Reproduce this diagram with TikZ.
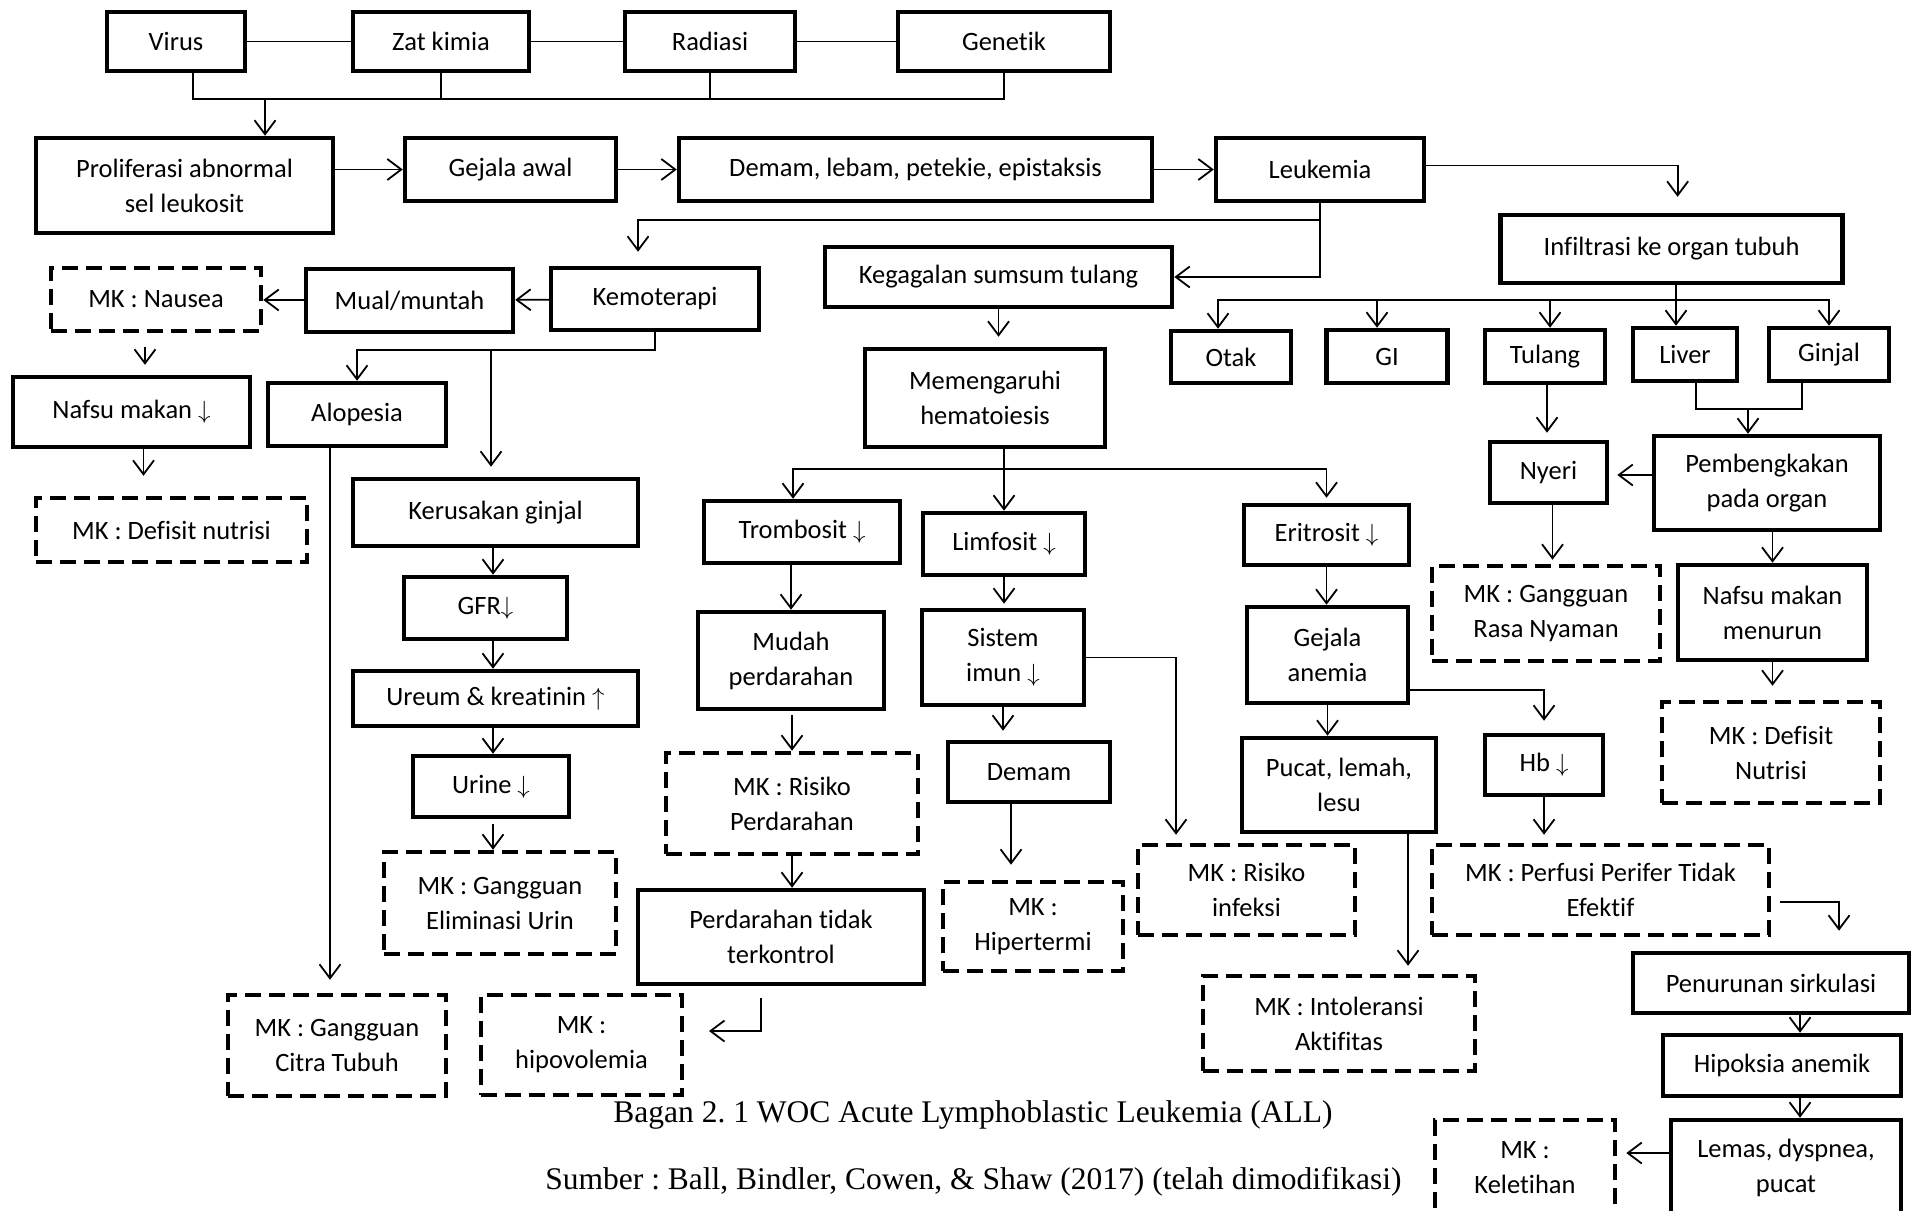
\documentclass[tikz,border=0pt]{standalone}
\usepackage{fontspec}
\setmainfont{Carlito}[Ligatures=NoCommon]
\newfontfamily\capfont{Liberation Serif}
\usetikzlibrary{arrows.meta}
\newcommand{\turun}{$\downarrow$}
\newcommand{\naik}{$\uparrow$}
\frenchspacing

\begin{document}
\begin{tikzpicture}[x=1pt,y=-1pt,
      box/.style={draw,line width=4.5pt,align=center,inner sep=2pt,
        font=\fontsize{26.5}{35}\selectfont},
      mkbox/.style={box,dash pattern=on 16pt off 8pt},
      caption/.style={font=\capfont\fontsize{31.5}{36}\selectfont},
      every path/.style={line width=1.8pt},
      >={Straight Barb[length=14pt,width=21pt]},
      ]
      \useasboundingbox (0,0) rectangle (1916,1210);
      % causes
      \node[box,minimum width=138pt,minimum height=59pt] (virus) at (176,41.5) {Virus};
      \node[box,minimum width=176pt,minimum height=59pt] (zat) at (441,41.5) {Zat kimia};
      \node[box,minimum width=170pt,minimum height=59pt] (radiasi) at (710,41.5) {Radiasi};
      \node[box,minimum width=212pt,minimum height=59pt] (genetik) at (1004,41.5) {Genetik};
      % main line
      \node[box,minimum width=297pt,minimum height=95pt] (prolif) at (184.5,185.5) {Proliferasi abnormal\\sel leukosit};
      \node[box,minimum width=211pt,minimum height=63pt] (gejala) at (510.5,169.5) {Gejala awal};
      \node[box,minimum width=473pt,minimum height=63pt] (demam1) at (915.5,169.5) {Demam, lebam, petekie, epistaksis};
      \node[box,minimum width=208pt,minimum height=63pt] (leuk) at (1320,169.5) {Leukemia};
      \node[box,minimum width=342pt,minimum height=68pt] (infil) at (1671.6,249) {Infiltrasi ke organ tubuh};
      \node[box,minimum width=347pt,minimum height=60pt] (kegagal) at (998.5,277) {Kegagalan sumsum tulang};
      % kemoterapi
      \node[box,minimum width=208pt,minimum height=62pt] (kemo) at (655,299) {Kemoterapi};
      \node[box,minimum width=207pt,minimum height=63pt] (mual) at (409.5,300.5) {Mual/muntah};
      \node[mkbox,minimum width=210pt,minimum height=63pt] (nausea) at (156,299.5) {MK : Nausea};
      \node[box,minimum width=237pt,minimum height=70pt] (nafsu1) at (131.5,412) {Nafsu makan \turun};
      \node[mkbox,minimum width=271pt,minimum height=64pt] (defnut1) at (171.5,530) {MK : Defisit nutrisi};
      \node[box,minimum width=178pt,minimum height=63pt] (alop) at (357,414.5) {Alopesia};
      \node[mkbox,minimum width=218pt,minimum height=101pt] (citra) at (337,1045.5) {MK : Gangguan\\Citra Tubuh};
      \node[box,minimum width=285pt,minimum height=67pt] (kerus) at (495.5,512.5) {Kerusakan ginjal};
      \node[box,minimum width=163pt,minimum height=62pt] (gfr) at (485.5,608) {GFR\turun};
      \node[box,minimum width=285pt,minimum height=55pt] (ureum) at (495.5,698.5) {Ureum \& kreatinin \naik};
      \node[box,minimum width=156pt,minimum height=61pt] (urine) at (491,786.5) {Urine \turun};
      \node[mkbox,minimum width=232pt,minimum height=102pt] (elim) at (500,903) {MK : Gangguan\\Eliminasi Urin};
      \node[mkbox,minimum width=201pt,minimum height=100pt] (hipo) at (581.5,1045) {MK :\\hipovolemia};
      % hematopoiesis
      \node[box,minimum width=240pt,minimum height=98pt] (memhem) at (985,398) {Memengaruhi\\hematoiesis};
      \node[box,minimum width=196pt,minimum height=62pt] (tromb) at (802,532) {Trombosit \turun};
      \node[box,minimum width=186pt,minimum height=97pt] (mudah) at (791,660.5) {Mudah\\perdarahan};
      \node[mkbox,minimum width=252pt,minimum height=101pt] (risper) at (792,803.5) {MK : Risiko\\Perdarahan};
      \node[box,minimum width=286pt,minimum height=94pt] (tidak) at (781,937) {Perdarahan tidak\\terkontrol};
      \node[box,minimum width=162pt,minimum height=62pt] (limf) at (1004,544) {Limfosit \turun};
      \node[box,minimum width=162pt,minimum height=95pt] (sistem) at (1003,657.5) {Sistem\\imun \turun};
      \node[box,minimum width=162pt,minimum height=60pt] (demam2) at (1029,772) {Demam};
      \node[mkbox,minimum width=180pt,minimum height=89pt] (hiper) at (1033,926.5) {MK :\\Hipertermi};
      \node[mkbox,minimum width=217pt,minimum height=90pt] (infeksi) at (1246.5,890) {MK : Risiko\\infeksi};
      \node[box,minimum width=165pt,minimum height=60pt] (eritro) at (1326.5,535) {Eritrosit \turun};
      \node[box,minimum width=161pt,minimum height=96pt] (anemia) at (1327.5,655) {Gejala\\anemia};
      \node[box,minimum width=194pt,minimum height=94pt] (pucat) at (1339,785) {Pucat, lemah,\\lesu};
      \node[mkbox,minimum width=272pt,minimum height=95pt] (intol) at (1339,1023.5) {MK : Intoleransi\\Aktifitas};
      \node[box,minimum width=118pt,minimum height=60pt] (hb) at (1544,765) {Hb \turun};
      \node[mkbox,minimum width=337pt,minimum height=90pt] (perfusi) at (1600.5,890) {MK : Perfusi Perifer Tidak\\Efektif};
      \node[box,minimum width=276pt,minimum height=60pt] (penur) at (1771,983) {Penurunan sirkulasi};
      \node[box,minimum width=238pt,minimum height=61pt] (hipoks) at (1782,1065.5) {Hipoksia anemik};
      \node[box,minimum width=230pt,minimum height=96pt] (lemas) at (1786,1168) {Lemas, dyspnea,\\pucat};
      \node[mkbox,minimum width=180pt,minimum height=96pt] (kelet) at (1525,1168) {MK :\\Keletihan};
      % organs
      \node[box,minimum width=120pt,minimum height=52pt] (otak) at (1231,357) {Otak};
      \node[box,minimum width=121pt,minimum height=53pt] (gi) at (1387,356.5) {GI};
      \node[box,minimum width=120pt,minimum height=53pt] (tulang) at (1545,356.5) {Tulang};
      \node[box,minimum width=104pt,minimum height=53pt] (liver) at (1685,354.5) {Liver};
      \node[box,minimum width=120pt,minimum height=53pt] (ginjal) at (1829,354.5) {Ginjal};
      \node[box,minimum width=117pt,minimum height=61pt] (nyeri) at (1548.5,472.5) {Nyeri};
      \node[box,minimum width=226pt,minimum height=94pt] (pemb) at (1767,483) {Pembengkakan\\pada organ};
      \node[mkbox,minimum width=228pt,minimum height=95pt] (rasa) at (1546,613.5) {MK : Gangguan\\Rasa Nyaman};
      \node[box,minimum width=189pt,minimum height=95pt] (nafsu2) at (1772.5,612.5) {Nafsu makan\\menurun};
      \node[mkbox,minimum width=218pt,minimum height=101pt] (defnut2) at (1771,752.5) {MK : Defisit\\Nutrisi};
      % captions
      \node[caption] (cap1) at (973,1115) {Bagan 2. 1 WOC Acute Lymphoblastic Leukemia (ALL)};
      \node[caption] (cap2) at (973.5,1182) {Sumber : Ball, Bindler, Cowen, \& Shaw (2017) (telah dimodifikasi)};

      \coordinate (cbus) at (265,99);
      \coordinate (kbus) at (491,350);
      \coordinate (kx) at (493,0);
      \coordinate (htip) at (709,1031);
      \coordinate (mbus) at (1004,469);
      \coordinate (ix) at (1176,0);
      \coordinate (rx) at (1800,0);
      \coordinate (ibus) at (1676,300);
      \coordinate (lg) at (1748,409);

      \draw (virus) -- (zat);
      \draw (zat) -- (radiasi);
      \draw (radiasi) -- (genetik);
      \draw ([xshift=17pt]virus.south) |- (genetik.south |- cbus) -- (genetik.south);
      \draw (zat.south) -- (zat.south |- cbus);
      \draw (radiasi.south) -- (radiasi.south |- cbus);
      \draw[->] (cbus) -- (cbus |- prolif.north);
      \draw[->] (prolif.east |- gejala.west) -- (gejala.west);
      \draw[->] (gejala) -- (demam1);
      \draw[->] (demam1) -- (leuk);
      \draw[->,shorten >=16pt] ([yshift=4pt]leuk.east) -| ([xshift=6pt]infil.north);
      \draw[->] (leuk.south) |- (kegagal.east);
      \draw[->,shorten >=14pt] ([yshift=-17pt]leuk.south) -| ([xshift=-17pt]kemo.north);
      \draw[->] (kemo) -- (mual);
      \draw[->] (mual) -- (nausea);
      \draw[->,shorten <=14pt,shorten >=10pt] ([xshift=-11pt]nausea.south) -- ([xshift=-11pt]nausea.south |- nafsu1.north);
      \draw[->,shorten >=20pt] ([xshift=12pt]nafsu1.south) -- ([xshift=12pt]nafsu1.south |- defnut1.north);
      \draw[->] (kemo.south) |- (alop.north |- kbus) -- (alop.north);
      \draw[->,shorten >=10pt] (kbus) -- (kbus |- kerus.north);
      \draw[->,shorten >=13pt] ([xshift=-27pt]alop.south) -- ([xshift=-27pt]alop.south |- citra.north);
      \draw[->] (kerus.south -| kx) -- (gfr.north -| kx);
      \draw[->] (gfr.south -| kx) -- (ureum.north -| kx);
      \draw[->] (ureum.south -| kx) -- (urine.north -| kx);
      \draw[->,shorten <=5pt] (urine.south -| kx) -- (elim.north -| kx);
      \draw[->] ([xshift=-20pt,yshift=-12pt]tidak.south) |- (htip);
      \draw[->,shorten >=10pt] (kegagal.south) -- (kegagal.south |- memhem.north);
      \draw (memhem.south -| mbus) -- (mbus);
      \draw[->] (mbus) -- (mbus |- limf.north);
      \draw[->] (mbus) -| ([xshift=-9pt]tromb.north);
      \draw[->,shorten >=5pt] (mbus) -| (eritro.north);
      \draw[->] (tromb.south -| mudah.north) -- (mudah.north);
      \draw[->,shorten <=4pt] (mudah.south -| risper.north) -- (risper.north);
      \draw[->] (risper.south) -- (risper.south |- tidak.north);
      \draw[->,shorten >=4pt] (limf.south) -- (limf.south |- sistem.north);
      \draw[->,shorten >=9pt] (sistem.south) -- (sistem.south |- demam2.north);
      \draw[->,shorten >=15pt] ([xshift=-18pt]demam2.south) -- ([xshift=-18pt]demam2.south |- hiper.north);
      \draw[->,shorten >=8pt] (sistem.east) -| (infeksi.north -| ix);
      \draw[->] (eritro.south) -- (eritro.south |- anemia.north);
      \draw[->] (anemia.south) -- (anemia.south |- pucat.north);
      \draw[->,shorten >=12pt] ([yshift=15pt]anemia.south east) -| (hb.north);
      \draw[->,shorten >=8pt] (hb.south) -- (hb.south |- perfusi.north);
      \draw[->,shorten >=8pt] ([xshift=69pt]pucat.south) -- ([xshift=69pt]pucat.south |- intol.north);
      \draw[->,shorten <=9pt,shorten >=20pt] ([yshift=-12pt]perfusi.east) -| ([xshift=68pt]penur.north);
      \draw[->] (penur.south -| rx) -- (hipoks.north -| rx);
      \draw[->] (hipoks.south -| rx) -- (lemas.north -| rx);
      \draw[->,shorten >=9pt] ([yshift=15pt]lemas.west) -- ([yshift=15pt]lemas.west -| kelet.east);
      \draw[->] (ibus |- infil.south) -- (ibus |- liver.north);
      \draw[->] (ibus) -| ([xshift=-13pt]otak.north);
      \draw[->] (ibus) -| ([xshift=-10pt]gi.north);
      \draw[->] (ibus) -| ([xshift=5pt]tulang.north);
      \draw[->] (ibus) -| (ginjal.north);
      \draw[->,shorten >=7pt] ([xshift=2pt]tulang.south) -- ([xshift=2pt]tulang.south |- nyeri.north);
      \draw ([xshift=11pt]liver.south) |- (lg);
      \draw ([xshift=-27pt]ginjal.south) |- (lg);
      \draw[->] (lg) -- (lg |- pemb.north);
      \draw[->,shorten >=8pt] ([yshift=8pt]pemb.west) -- ([yshift=8pt]pemb.west -| nyeri.east);
      \draw[->,shorten >=4pt] ([xshift=4pt]nyeri.south) -- ([xshift=4pt]nyeri.south |- rasa.north);
      \draw[->] (nafsu2.north |- pemb.south) -- (nafsu2.north);
      \draw[->,shorten >=14pt] (nafsu2.south) -- (nafsu2.south |- defnut2.north);
    \end{tikzpicture}
\end{document}
